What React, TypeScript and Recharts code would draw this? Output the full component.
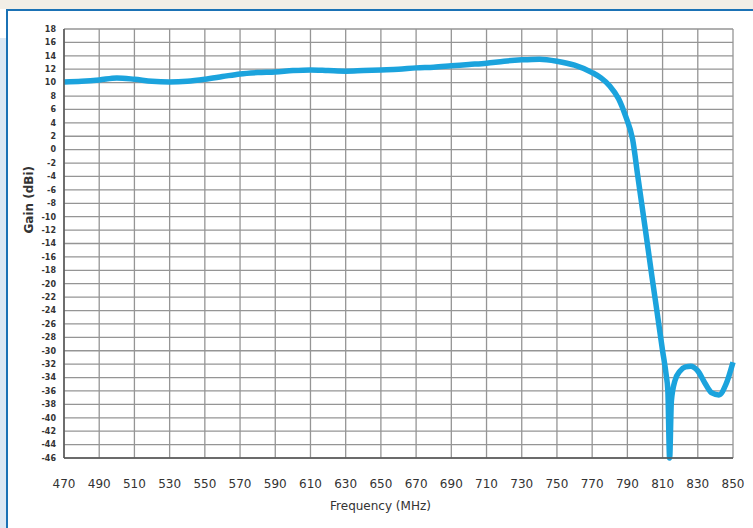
import React from 'react';
import { LineChart, Line, XAxis, YAxis, CartesianGrid, Label } from 'recharts';

const freqs = [470, 480, 490, 500, 510, 520, 530, 540, 550, 560, 570, 580, 590, 600, 610, 620, 630, 640, 650, 660, 670, 680, 690, 700, 710, 720, 730, 740, 750, 760, 770, 775, 780, 785, 789, 793, 796, 800, 804, 807.5, 810, 812, 813, 814, 815, 817, 820, 823, 826, 830, 834, 838, 842, 846, 850];
const gain = [10.1, 10.2, 10.4, 10.7, 10.5, 10.2, 10.1, 10.2, 10.5, 10.9, 11.3, 11.5, 11.6, 11.8, 11.9, 11.8, 11.7, 11.8, 11.9, 12.0, 12.2, 12.3, 12.5, 12.7, 12.9, 13.2, 13.4, 13.5, 13.2, 12.6, 11.5, 10.7, 9.5, 7.6, 5.0, 1.5, -4.1, -11.5, -19.0, -25.4, -30.0, -33.5, -36.0, -46, -37.5, -34.5, -33.0, -32.4, -32.3, -33.0, -34.8, -36.3, -36.6, -35.0, -31.7];

const xTicks = [470, 490, 510, 530, 550, 570, 590, 610, 630, 650, 670, 690, 710, 730, 750, 770, 790, 810, 830, 850];
const yTicks = [18, 16, 14, 12, 10, 8, 6, 4, 2, 0, -2, -4, -6, -8, -10, -12, -14, -16, -18, -20, -22, -24, -26, -28, -30, -32, -34, -36, -38, -40, -42, -44, -46];

const data = freqs.map((f, i) => ({ freq: f, gain: gain[i] }));

export default function App() {
  return (
    <div style={{ position: 'fixed', left: 0, top: 0, width: 753, height: 528, background: '#fff', overflow: 'hidden', fontFamily: 'DejaVu Sans, sans-serif' }}>
      {/* frame */}
      <div style={{ position: 'absolute', left: 0, top: 0, width: 753, height: 9, background: '#f2eee6' }} />
      <div style={{ position: 'absolute', left: 0, top: 38, width: 6, height: 490, background: '#dce8f3' }} />
      <div style={{ position: 'absolute', left: 6, top: 9, width: 747, height: 519, boxSizing: 'border-box', borderLeft: '2px solid #1b72b5', borderTop: '2px solid #1b72b5' }} />
      <div style={{ position: 'absolute', left: 0, top: 0 }}>
        <LineChart width={753} height={528} data={data} margin={{ top: 29, right: 20, bottom: 40, left: 24 }}>
          <CartesianGrid stroke="#959595" strokeWidth={1.3} horizontalValues={yTicks} verticalValues={xTicks} />
          <XAxis
            dataKey="freq"
            type="number"
            domain={[470, 850]}
            ticks={xTicks}
            interval={0}
            tickLine={false}
            tickMargin={15}
            axisLine={{ stroke: '#555', strokeWidth: 1.5 }}
            tick={{ fill: '#333', fontSize: 12 }}
            height={30}
          >
            <Label value="Frequency (MHz)" position="insideBottom" offset={-22} dx={-18} fill="#333" fontSize={12} />
          </XAxis>
          <YAxis
            type="number"
            domain={[-46, 18]}
            ticks={yTicks}
            interval={0}
            tickLine={false}
            axisLine={{ stroke: '#555', strokeWidth: 1.5 }}
            tick={{ fill: '#333', fontSize: 8, fontWeight: 'bold' }}
            width={40}
          >
            <Label value="Gain (dBi)" angle={-90} position="insideLeft" offset={5} dy={-10} fill="#333" fontSize={12} fontWeight="bold" />
          </YAxis>
          <Line
            type="monotone"
            dataKey="gain"
            stroke="#1ba3dd"
            strokeWidth={5.5}
            dot={false}
            isAnimationActive={false}
          />
        </LineChart>
      </div>
    </div>
  );
}
